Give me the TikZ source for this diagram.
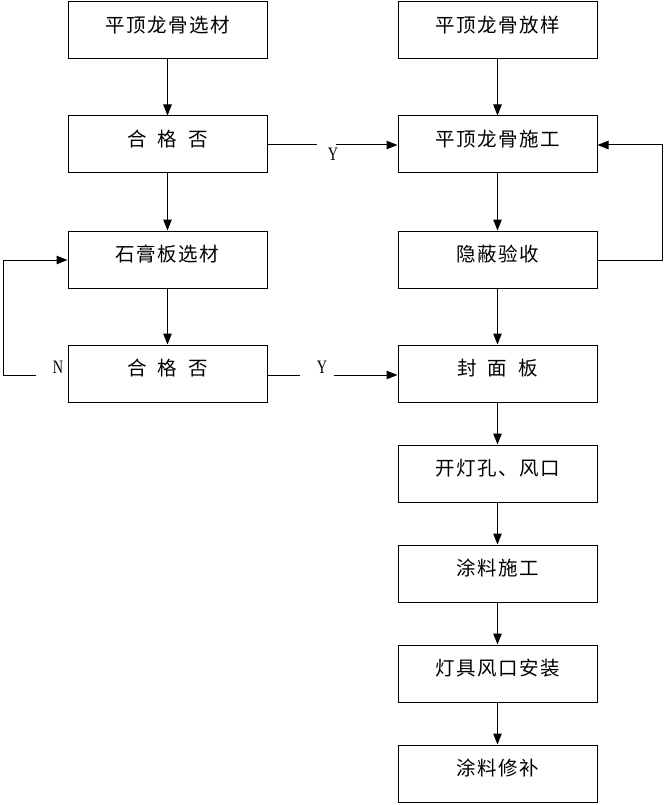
\documentclass[tikz,border=0pt]{standalone}
\usepackage{fontspec}
\setmainfont{Liberation Serif}
\newfontfamily\cjk[LetterSpace=8]{Noto Sans CJK SC}
\usetikzlibrary{arrows.meta}
\begin{document}
\begin{tikzpicture}[x=1pt,y=-1pt,
  box/.style={draw,line width=1pt,minimum width=199pt,minimum height=57pt,inner sep=0pt,
    font=\cjk\fontsize{19.5pt}{19.5pt}\selectfont,text height=14pt,text depth=10.8pt},
  arr/.style={line width=1pt,-{Triangle[length=11pt,width=8.5pt]}},
  ln/.style={line width=1pt},
  yn/.style={font=\fontsize{19pt}{19pt}\selectfont,xscale=0.75,inner sep=0pt}]
\useasboundingbox (0,0) rectangle (665,805);
\fill[white] (0,0) rectangle (665,805);
\def\sp{\hspace{11pt}}
% left column
\node[box] (l1) at (167.5,30.5) {平顶龙骨选材};
\node[box] (l2) at (167.5,144.5) {合\sp 格\sp 否};
\node[box] (l3) at (167.5,259.5) {石膏板选材};
\node[box] (l4) at (167.5,373.5) {合\sp 格\sp 否};
% right column
\node[box] (r1) at (497.5,30.5) {平顶龙骨放样};
\node[box] (r2) at (497.5,144.5) {平顶龙骨施工};
\node[box] (r3) at (497.5,259.5) {隐蔽验收};
\node[box] (r4) at (497.5,373.5) {封\sp 面\sp 板};
\node[box] (r5) at (497.5,473.5) {开灯孔、风口};
\node[box] (r6) at (497.5,573.5) {涂料施工};
\node[box] (r7) at (497.5,673.5) {灯具风口安装};
\node[box] (r8) at (497.5,773.5) {涂料修补};
% vertical arrows
\draw[arr] (l1) -- (l2);
\draw[arr] (l2) -- (l3);
\draw[arr] (l3) -- (l4);
\draw[arr] (r1) -- (r2);
\draw[arr] (r2) -- (r3);
\draw[arr] (r3) -- (r4);
\draw[arr] (r4) -- (r5);
\draw[arr] (r5) -- (r6);
\draw[arr] (r6) -- (r7);
\draw[arr] (r7) -- (r8);
% Y from first check
\coordinate (y1a) at (317,145);
\coordinate (y1b) at (336,145);
\node[yn] (y1) at (333,154) {Y};
\draw[ln] (l2.east |- y1a) -- (y1a);
\draw[arr] (y1b) -- (r2.west |- y1b);
% Y from second check
\coordinate (y2a) at (300,375);
\coordinate (y2b) at (334,375);
\node[yn] (y2) at (322,367) {Y};
\draw[ln] (l4.east |- y2a) -- (y2a);
\draw[arr] (y2b) -- (r4.west |- y2b);
% N loop
\node[yn] (n) at (58,367) {N};
\coordinate (na) at (36,375);
\coordinate (nb) at (3,260);
\draw[arr] (na) -- (3,375) -- (nb) -- (l3.west |- nb);
% right loop
\coordinate (rl) at (662,260);
\draw[arr] (r3.east |- rl) -- (rl) -- (662,145) -- (r2.east |- 0,145);
\end{tikzpicture}
\end{document}
